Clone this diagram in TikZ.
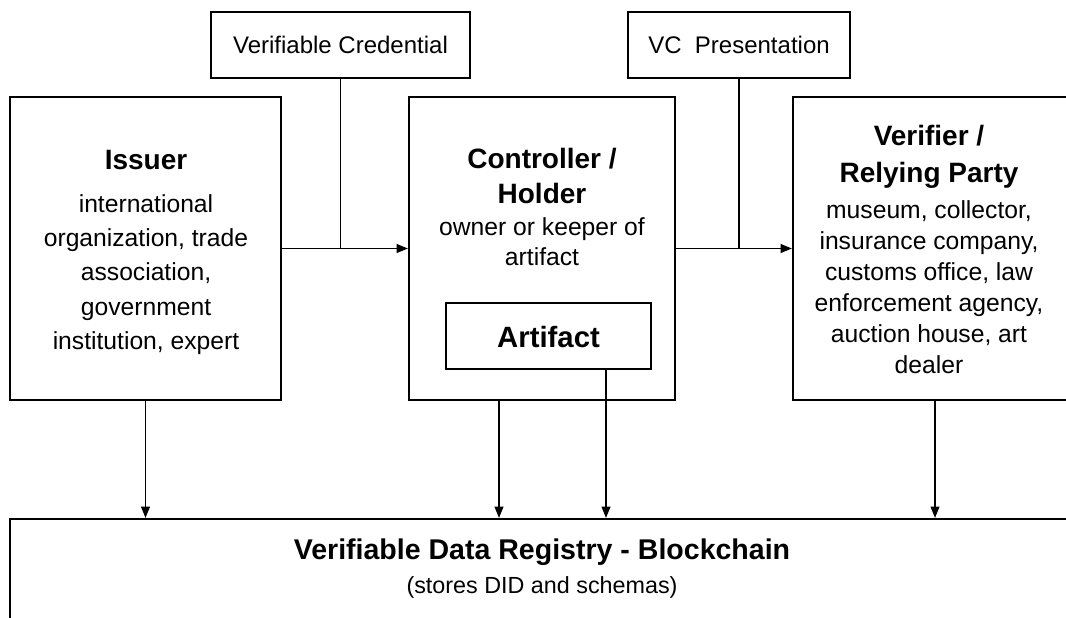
\documentclass[tikz,border=0pt]{standalone}
\usepackage{fontspec}
\setmainfont{Liberation Sans}
\usetikzlibrary{arrows.meta}
\begin{document}
\begin{tikzpicture}[x=0.75pt,y=-0.75pt,
  box/.style={draw=black,line width=1.5pt,rectangle,inner sep=0pt},
  conn/.style={line width=1.35pt},
  arr/.style={line width=1.35pt,-{Triangle[length=8.5pt,width=6.5pt]}},
  ttl/.style={inner sep=0pt,align=center,font=\fontsize{21}{26}\selectfont\bfseries},
  body/.style={inner sep=0pt,align=center}
]
\useasboundingbox (0,0) rectangle (1066,617);
\clip (0,0) rectangle (1066,617);
% boxes
\node[box,minimum width=203.25pt,minimum height=227.25pt] (issuer) at (145.5,248.5) {};
\node[box,minimum width=199.5pt,minimum height=227.25pt] (ctrl) at (542,248.5) {};
\node[box,minimum width=230.25pt,minimum height=227.25pt] (ver) at (946.5,248.5) {};
\node[box,minimum width=194.25pt,minimum height=49.5pt] (vc) at (340.5,45) {};
\node[box,minimum width=166.5pt,minimum height=49.5pt] (vcp) at (739,45) {};
\node[box,minimum width=153.75pt,minimum height=49.5pt] (art) at (548.5,336) {};
\node[box,minimum width=817.5pt,minimum height=105.75pt] (reg) at (555,589.5) {};
% texts
\node[body,font=\fontsize{18}{21}\selectfont] (vct) at (340.5,45) {Verifiable Credential};
\node[body,font=\fontsize{18}{21}\selectfont] (vcpt) at (739,45) {VC\ \ Presentation};
\node[ttl] (it) at (146,160) {Issuer};
\node[body,font=\fontsize{18.5}{25.7}\selectfont] (ib) at (146,274.5) {international\\organization, trade\\association,\\government\\institution, expert};
\node[ttl,font=\fontsize{21}{26.25}\selectfont\bfseries] (ct) at (542,175.5) {Controller /\\Holder};
\node[body,font=\fontsize{18.5}{22.5}\selectfont] (cb) at (542,242) {owner or keeper of\\artifact};
\node[ttl,font=\fontsize{22}{26}\selectfont\bfseries] (at) at (548.5,337) {Artifact};
\node[ttl,font=\fontsize{21}{27.75}\selectfont\bfseries] (vt) at (929,156.5) {Verifier /\\Relying Party};
\node[body,font=\fontsize{18.5}{23.25}\selectfont] (vb) at (929,287.5) {museum, collector,\\insurance company,\\customs office, law\\enforcement agency,\\auction house, art\\dealer};
\node[ttl,font=\fontsize{21.4}{26}\selectfont\bfseries] (rt) at (542,552) {Verifiable Data Registry - Blockchain};
\node[body,font=\fontsize{17.5}{20}\selectfont] (rb) at (542,587) {(stores DID and schemas)};
% connectors
\draw[arr] (issuer.east) -- (ctrl.west);
\draw[conn] (vc.south) -- (vc.south |- issuer.east);
\draw[arr] (ctrl.east) -- (ver.west);
\draw[conn] (vcp.south) -- (vcp.south |- ctrl.east);
\coordinate (d1) at (issuer.south);
\coordinate (d2) at ([xshift=-32.25pt]ctrl.south);
\coordinate (d3) at ([xshift=43.125pt]art.south);
\coordinate (d4) at ([xshift=-8.625pt]ver.south);
\draw[arr] (d1) -- (d1 |- reg.north);
\draw[arr] (d2) -- (d2 |- reg.north);
\draw[arr] (d3) -- (d3 |- reg.north);
\draw[arr] (d4) -- (d4 |- reg.north);
\end{tikzpicture}
\end{document}
